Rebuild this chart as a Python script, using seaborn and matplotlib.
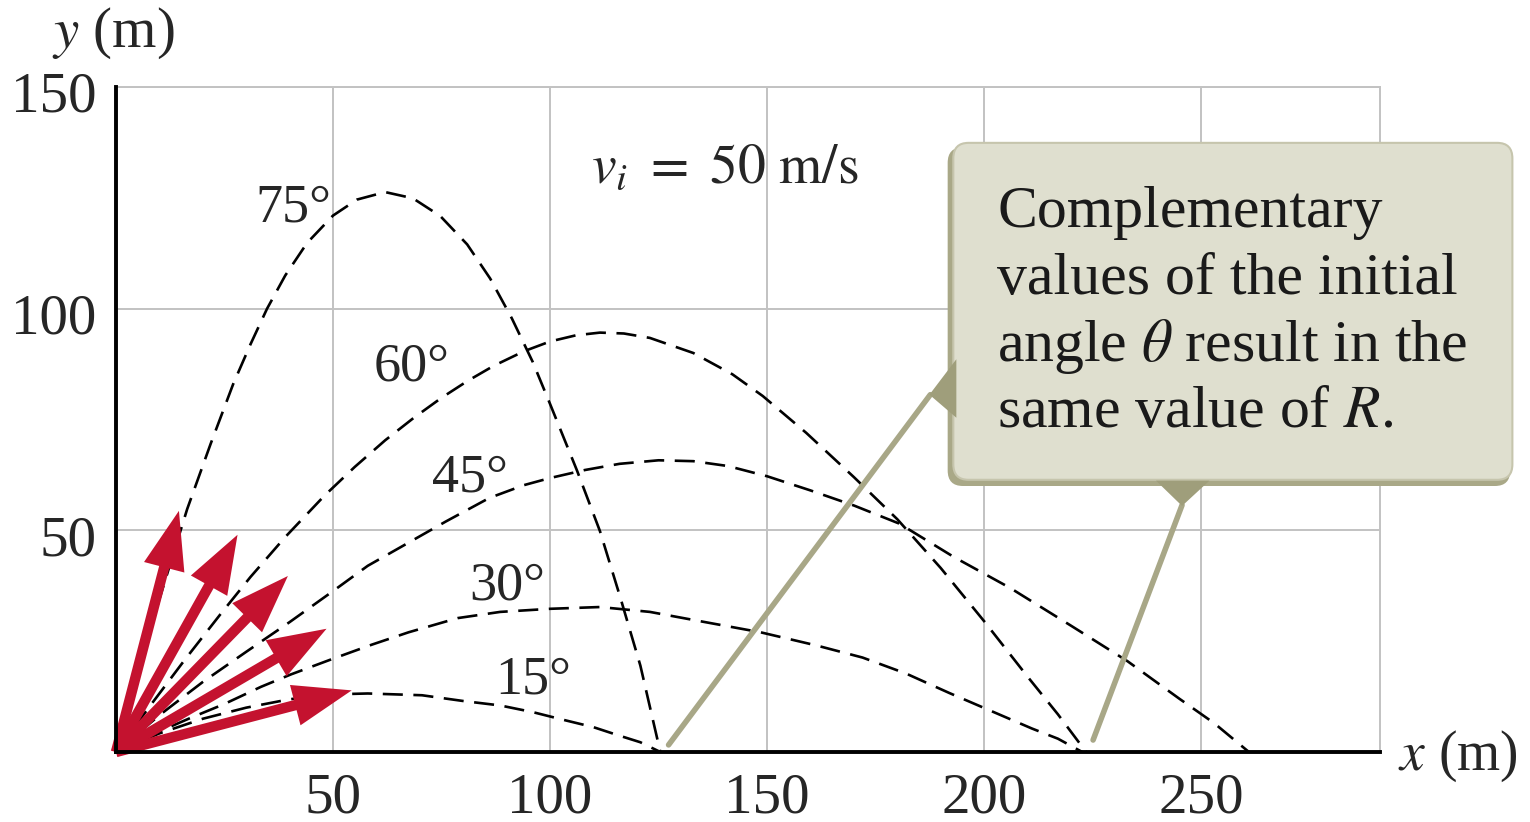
import matplotlib
matplotlib.use('Agg')
import matplotlib.pyplot as plt
import matplotlib.transforms as mtransforms
import pandas as pd
import seaborn as sns
from matplotlib.patches import FancyArrowPatch, FancyBboxPatch, Polygon, ArrowStyle

# trajectories, x and y in metres
angles = ['15°', '30°', '45°', '60°', '75°']

x15 = [0, 10, 20, 30, 40, 50, 58, 70.5, 80, 88.5, 96, 103.3, 110, 115.6, 120.8, 125.4]
y15 = [0, 4.2, 7.5, 10, 11.9, 13, 13.2, 12.8, 11.5, 10.5, 9, 7.2, 5.6, 3.8, 2.2, 0]

x30 = [0, 8, 17.2, 24.9, 33.4, 40.3, 49.6, 58.9, 67.4, 78.7, 88.5, 100, 111.5, 123, 134.6,
       148.5, 161.5, 172, 182, 192, 201.5, 211, 217, 222.6]
y30 = [0, 3.8, 7.7, 10.8, 14.7, 17.5, 20.9, 24.2, 27, 30.2, 31.6, 32.3, 32.7, 31.6, 29.5,
       27, 24, 21.3, 17.7, 13.3, 9.3, 5.3, 3, 0]

x45 = [0, 10, 20, 30, 40, 50, 58, 67, 76, 86, 94, 100, 108, 116, 125, 133, 141, 150, 160,
       170, 180.5, 193, 206, 220, 233, 245, 253, 261]
y45 = [0, 8.3, 15.8, 22.6, 29.3, 36.3, 42, 47, 52, 57.3, 60.2, 61.8, 63.6, 65, 65.8, 65.6,
       64.5, 62.2, 59, 55.6, 51.5, 44, 37, 28.5, 20.5, 12, 6.5, 0]

x60 = [0, 8, 16, 24, 31, 39, 48, 55, 62, 68.5, 75, 81, 87, 94, 100, 106, 111.5, 117,
       123, 133, 142, 149, 159, 170, 180, 190, 200, 210, 217, 223.5]
y60 = [0, 10.6, 21, 31, 39.5, 48.5, 57.8, 64.3, 70.3, 75.3, 79.9, 83.7, 87.1, 90.4, 92.6, 94,
       94.6, 94.4, 93.4, 90, 85.2, 80.3, 72, 62, 52.5, 41.5, 29.5, 17, 8.5, 0]

x75 = [0, 5, 10, 16.4, 21.8, 27, 31, 34.8, 39, 44, 50, 55.5, 62, 68.4, 74.7, 80.9, 86.2,
       91.2, 96, 100, 106.2, 111.5, 116.2, 120.8, 125.4]
y75 = [0, 17.5, 34.5, 54.8, 69.5, 83, 92, 100, 107.5, 114.8, 121, 124.6, 126.3, 124.9,
       120.9, 114.5, 106.8, 97.8, 88, 78.5, 63.5, 49.8, 34.8, 19.5, 0]

# tips of the initial velocity arrows
tip_x = [54.3, 48.5, 39.6, 28.0, 14.5]
tip_y = [13.9, 27.8, 39.7, 49.0, 54.4]

# angle label anchors (baseline)
label_x = [96.1, 90.1, 81.6, 68.2, 40.8]
label_y = [13.3, 34.3, 58.7, 83.9, 119.6]

x_ticks = [50, 100, 150, 200, 250]
y_ticks = [50, 100, 150]

callout_lines = ['Complementary', 'values of the initial',
                 r'angle $\theta$ result in the', r'same value of $R$.']

curves = [(x15, y15), (x30, y30), (x45, y45), (x60, y60), (x75, y75)]
rows = []
for a, (xs, ys) in zip(angles, curves):
    for xv, yv in zip(xs, ys):
        rows.append({'angle': a, 'x': xv, 'y': yv})
df = pd.DataFrame(rows)

sns.set_theme(style='white')
plt.rcParams['font.family'] = ['Liberation Serif', 'DejaVu Serif']
plt.rcParams['mathtext.fontset'] = 'stix'

RED = '#c4122f'
OLIVE = '#a8a787'
GRID = '#c2c2c2'

fig = plt.figure(figsize=(15.3, 8.22), dpi=100)
ax = fig.add_axes([116 / 1530, 70 / 822, 1264 / 1530, 665 / 822])

sns.lineplot(data=df, x='x', y='y', hue='angle', palette=['black'] * 5,
             estimator=None, sort=False, legend=False, lw=1.9, ax=ax, zorder=2)
for line in ax.lines:
    line.set_dashes((7.6, 4))

ax.set_xlim(0, 291.2)
ax.set_ylim(0, 150)
ax.set_xticks(x_ticks)
ax.set_yticks(y_ticks)
ax.set_xlabel('')
ax.set_ylabel('')
ax.grid(True, color=GRID, lw=1.4)
ax.set_axisbelow(True)
ax.tick_params(direction='in', length=19.5, width=2.2, color='black',
               labelsize=41, top=False, right=False)
ax.tick_params(axis='x', pad=15)
ax.tick_params(axis='y', pad=14)
# nudge the y labels down a little, as in the figure
shift = mtransforms.ScaledTranslation(0, -5 / 100, fig.dpi_scale_trans)
for lab in ax.get_yticklabels():
    lab.set_transform(lab.get_transform() + shift)
for side in ['left', 'bottom']:
    ax.spines[side].set_color('black')
    ax.spines[side].set_linewidth(2.8)
    ax.spines[side].set_zorder(6)
for side in ['top', 'right']:
    ax.spines[side].set_color(GRID)
    ax.spines[side].set_linewidth(1.4)

# angle labels
for a, lx, ly in zip(angles, label_x, label_y):
    ax.text(lx, ly, a, ha='center', va='baseline', size=39, zorder=4)

ax.text(140.3, 128.4, r'$v_i\ =\ 50\ \mathrm{m/s}$', ha='center', va='baseline', size=40)

# initial velocity vectors
for tx, ty in zip(tip_x, tip_y):
    arr = FancyArrowPatch((0, 0), (tx, ty),
                          arrowstyle=ArrowStyle.Simple(head_length=42, head_width=30, tail_width=7.5),
                          mutation_scale=1, color=RED, lw=0, shrinkA=0, shrinkB=0,
                          zorder=5, clip_on=False)
    ax.add_patch(arr)

# callout box
shadow = FancyBboxPatch((191.6, 60.0), 129.6, 76.4,
                        boxstyle='round,pad=0,rounding_size=3.5',
                        fc='#a9a887', ec='none', zorder=3, clip_on=False)
ax.add_patch(shadow)
box = FancyBboxPatch((192.9, 61.4), 128.8, 76.0,
                     boxstyle='round,pad=0,rounding_size=3.5',
                     fc='#dfdfcf', ec='#c6c5ad', lw=1.5, zorder=3.1, clip_on=False)
ax.add_patch(box)

for i, txt in enumerate(callout_lines):
    ax.text(203, 118.4 - 15.05 * i, txt, ha='left', va='baseline', size=43,
            color='#1a1a1a', zorder=7, clip_on=False)

# pointers from the box to the two ranges
ax.plot([127.3, 187.6], [1.6, 80.6], color=OLIVE, lw=4.0, solid_capstyle='round', zorder=4)
ax.plot([225.1, 245.6], [2.7, 55.7], color=OLIVE, lw=4.0, solid_capstyle='round', zorder=4)
ax.add_patch(Polygon([[187.4, 80.6], [193.6, 88.6], [193.6, 75.4]], closed=True,
                     fc='#9f9e7b', ec='none', zorder=4))
ax.add_patch(Polygon([[239.6, 61.2], [251.9, 61.2], [245.6, 55.5]], closed=True,
                     fc='#9f9e7b', ec='none', zorder=4))

fig.text(113 / 1530, 1 - 47 / 822, r'$y$ (m)', ha='center', va='baseline', size=41)
fig.text(1458 / 1530, 1 - 770 / 822, r'$x$ (m)', ha='center', va='baseline', size=40)

fig.savefig('out.png', dpi=100)
